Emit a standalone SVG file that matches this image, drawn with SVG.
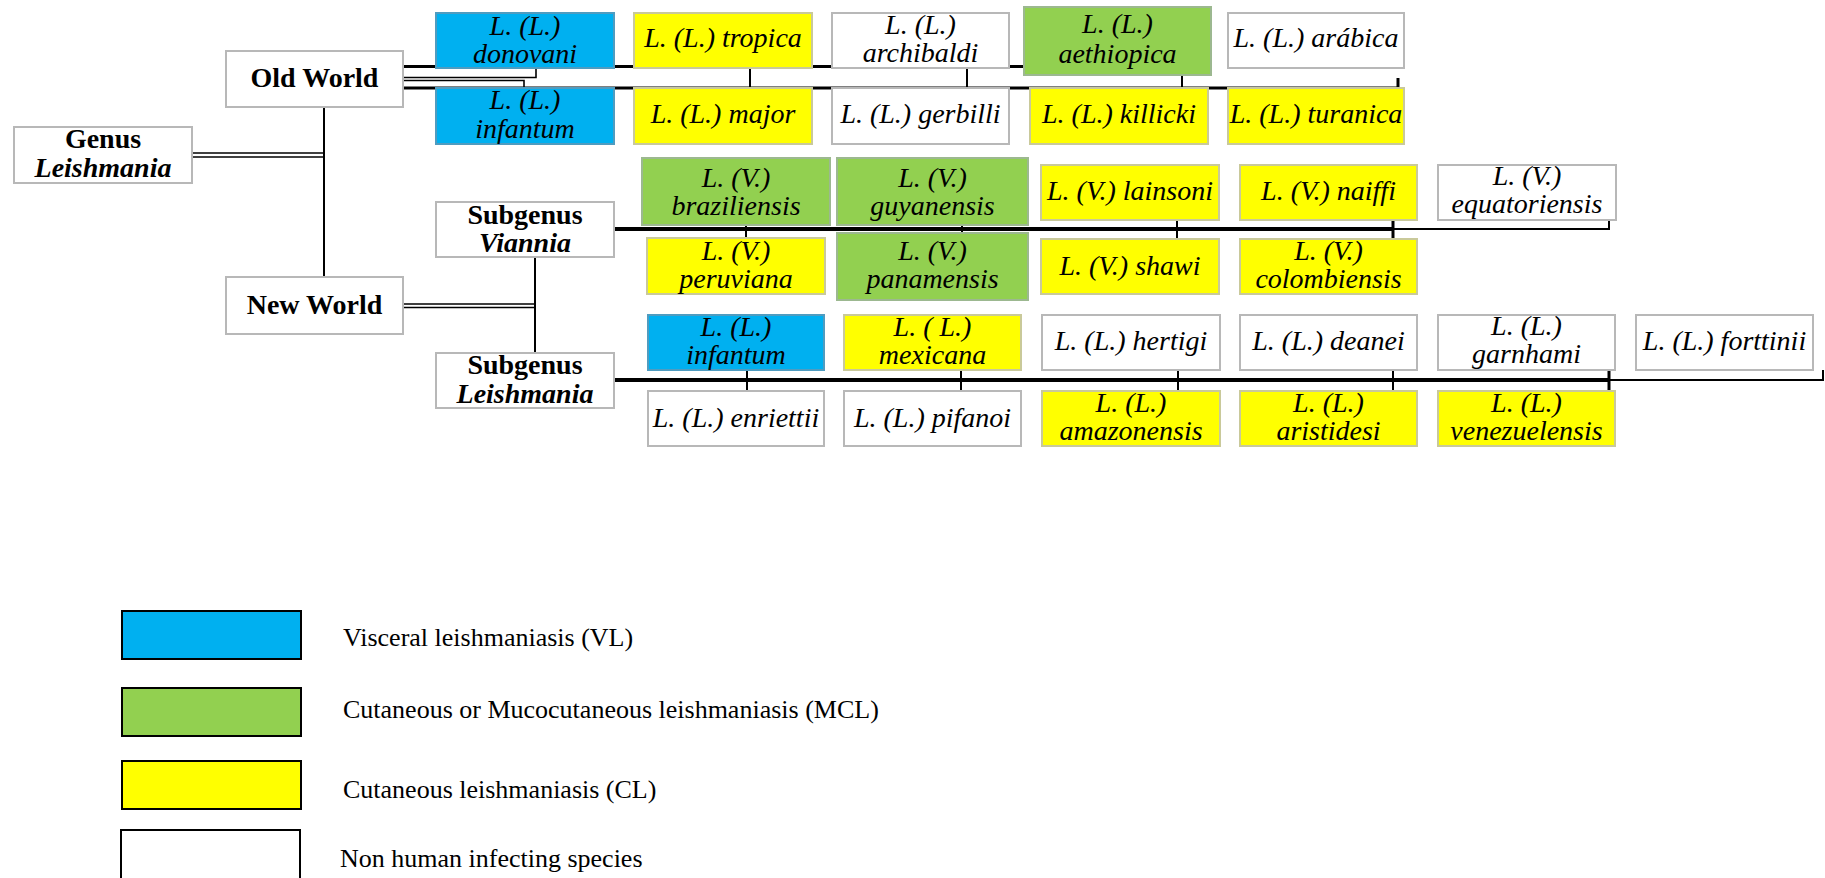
<svg xmlns="http://www.w3.org/2000/svg" width="1825" height="878" viewBox="0 0 1825 878">
<style>
.bx{stroke-width:2}
.b{fill:#00b0f0;stroke:#4f9cc0}
.g{fill:#92d050;stroke:#9cb890}
.y{fill:#ffff00;stroke:#c9c99a}
.w{fill:#ffffff;stroke:#b8b8b8}
.t{font-family:"Liberation Serif","Times New Roman",serif;font-size:28px;font-style:italic;text-anchor:middle;fill:#000}
.h{font-weight:bold;font-style:normal}
.hi{font-weight:bold;font-style:italic}
.c{stroke:#000;fill:none}
.k{stroke-width:3}
.m{stroke-width:2}
.s{stroke-width:1.6}
.f{stroke-width:4}
.lg{stroke:#000;stroke-width:2}
.lt{font-family:"Liberation Serif","Times New Roman",serif;font-size:26px;fill:#000}
</style>
<rect width="1825" height="878" fill="#ffffff"/>
<g id="connectors">
  <line class="c s" x1="192" y1="153" x2="324" y2="153"/>
  <line class="c s" x1="192" y1="157" x2="324" y2="157"/>
  <line class="c m" x1="324" y1="107" x2="324" y2="277"/>
  <line class="c k" x1="403" y1="66.5" x2="1030" y2="66.5"/>
  <path class="c s" d="M403,77.5 H536 V68"/>
  <path class="c s" d="M403,80.5 H524 V88"/>
  <path class="c k" d="M403,88 H1398 V78"/>
  <line class="c m" x1="750" y1="68" x2="750" y2="88"/>
  <line class="c m" x1="967" y1="68" x2="967" y2="88"/>
  <line class="c m" x1="1182" y1="75" x2="1182" y2="88"/>
  <line class="c s" x1="403" y1="304" x2="535" y2="304"/>
  <line class="c s" x1="403" y1="307.5" x2="535" y2="307.5"/>
  <line class="c m" x1="535" y1="257" x2="535" y2="353"/>
  <line class="c f" x1="614" y1="229" x2="1393" y2="229"/>
  <path class="c m" d="M1393,229 H1609 V220"/>
  <line class="c m" x1="746" y1="225" x2="746" y2="238"/>
  <line class="c m" x1="962" y1="225" x2="962" y2="233"/>
  <line class="c m" x1="1177" y1="220" x2="1177" y2="239"/>
  <line class="c k" x1="1393" y1="220" x2="1393" y2="239"/>
  <line class="c f" x1="614" y1="380" x2="1609" y2="380"/>
  <path class="c m" d="M1609,380 H1823 V370"/>
  <line class="c m" x1="747" y1="370" x2="747" y2="391"/>
  <line class="c m" x1="961" y1="370" x2="961" y2="391"/>
  <line class="c m" x1="1178" y1="370" x2="1178" y2="391"/>
  <line class="c m" x1="1393" y1="370" x2="1393" y2="391"/>
  <line class="c k" x1="1609" y1="370" x2="1609" y2="391"/>
</g>
<g id="genus"><rect class="bx w" x="14" y="127" width="178" height="56"/><text class="t h" x="103" y="148">Genus</text><text class="t hi" x="103" y="177">Leishmania</text></g>
<g id="old-world"><rect class="bx w" x="226" y="51" width="177" height="56"/><text class="t h" x="314.5" y="87">Old World</text></g>
<g id="new-world"><rect class="bx w" x="226" y="277" width="177" height="57"/><text class="t h" x="314.5" y="314">New World</text></g>
<g id="subgenus-viannia"><rect class="bx w" x="436" y="202" width="178" height="55"/><text class="t h" x="525" y="224">Subgenus</text><text class="t hi" x="525" y="252">Viannia</text></g>
<g id="subgenus-leishmania"><rect class="bx w" x="436" y="353" width="178" height="55"/><text class="t h" x="525" y="374">Subgenus</text><text class="t hi" x="525" y="403">Leishmania</text></g>

<g id="donovani"><rect class="bx b" x="436" y="13" width="178" height="55"/><text class="t" x="525" y="35">L. (L.)</text><text class="t" x="525" y="63">donovani</text></g>
<g id="infantum-old"><rect class="bx b" x="436" y="88" width="178" height="56"/><text class="t" x="525" y="109">L. (L.)</text><text class="t" x="525" y="138">infantum</text></g>
<g id="tropica"><rect class="bx y" x="634" y="13" width="178" height="55"/><text class="t" x="723" y="47">L. (L.) tropica</text></g>
<g id="archibaldi"><rect class="bx w" x="832" y="13" width="177" height="55"/><text class="t" x="920.5" y="34">L. (L.)</text><text class="t" x="920.5" y="62">archibaldi</text></g>
<g id="aethiopica"><rect class="bx g" x="1024" y="7" width="187" height="68"/><text class="t" x="1117.5" y="33">L. (L.)</text><text class="t" x="1117.5" y="63">aethiopica</text></g>
<g id="arabica"><rect class="bx w" x="1228" y="13" width="176" height="55"/><text class="t" x="1316" y="47">L. (L.) arábica</text></g>
<g id="major"><rect class="bx y" x="634" y="88" width="178" height="56"/><text class="t" x="723" y="123">L. (L.) major</text></g>
<g id="gerbilli"><rect class="bx w" x="832" y="88" width="177" height="56"/><text class="t" x="920.5" y="123">L. (L.) gerbilli</text></g>
<g id="killicki"><rect class="bx y" x="1030" y="88" width="178" height="56"/><text class="t" x="1119" y="123">L. (L.) killicki</text></g>
<g id="turanica"><rect class="bx y" x="1228" y="88" width="176" height="56"/><text class="t" x="1316" y="123">L. (L.) turanica</text></g>

<g id="braziliensis"><rect class="bx g" x="642" y="158" width="188" height="67"/><text class="t" x="736" y="187">L. (V.)</text><text class="t" x="736" y="215">braziliensis</text></g>
<g id="guyanensis"><rect class="bx g" x="837" y="158" width="191" height="67"/><text class="t" x="932.5" y="187">L. (V.)</text><text class="t" x="932.5" y="215">guyanensis</text></g>
<g id="lainsoni"><rect class="bx y" x="1041" y="165" width="178" height="55"/><text class="t" x="1130" y="200">L. (V.) lainsoni</text></g>
<g id="naiffi"><rect class="bx y" x="1240" y="165" width="177" height="55"/><text class="t" x="1328.5" y="200">L. (V.) naiffi</text></g>
<g id="equatoriensis"><rect class="bx w" x="1438" y="165" width="178" height="55"/><text class="t" x="1527" y="185">L. (V.)</text><text class="t" x="1527" y="213">equatoriensis</text></g>
<g id="peruviana"><rect class="bx y" x="647" y="238" width="178" height="56"/><text class="t" x="736" y="260">L. (V.)</text><text class="t" x="736" y="288">peruviana</text></g>
<g id="panamensis"><rect class="bx g" x="837" y="233" width="191" height="67"/><text class="t" x="932.5" y="260">L. (V.)</text><text class="t" x="932.5" y="288">panamensis</text></g>
<g id="shawi"><rect class="bx y" x="1041" y="239" width="178" height="55"/><text class="t" x="1130" y="275">L. (V.) shawi</text></g>
<g id="colombiensis"><rect class="bx y" x="1240" y="239" width="177" height="55"/><text class="t" x="1328.5" y="260">L. (V.)</text><text class="t" x="1328.5" y="288">colombiensis</text></g>

<g id="infantum-new"><rect class="bx b" x="648" y="315" width="176" height="55"/><text class="t" x="736" y="336">L. (L.)</text><text class="t" x="736" y="364">infantum</text></g>
<g id="mexicana"><rect class="bx y" x="844" y="315" width="177" height="55"/><text class="t" x="932.5" y="336">L. ( L.)</text><text class="t" x="932.5" y="364">mexicana</text></g>
<g id="hertigi"><rect class="bx w" x="1042" y="315" width="178" height="55"/><text class="t" x="1131" y="350">L. (L.) hertigi</text></g>
<g id="deanei"><rect class="bx w" x="1240" y="315" width="177" height="55"/><text class="t" x="1328.5" y="350">L. (L.) deanei</text></g>
<g id="garnhami"><rect class="bx w" x="1438" y="315" width="177" height="55"/><text class="t" x="1526.5" y="335">L. (L.)</text><text class="t" x="1526.5" y="363">garnhami</text></g>
<g id="forttinii"><rect class="bx w" x="1636" y="315" width="177" height="55"/><text class="t" x="1724.5" y="350">L. (L.) forttinii</text></g>
<g id="enriettii"><rect class="bx w" x="648" y="391" width="176" height="55"/><text class="t" x="736" y="427">L. (L.) enriettii</text></g>
<g id="pifanoi"><rect class="bx w" x="844" y="391" width="177" height="55"/><text class="t" x="932.5" y="427">L. (L.) pifanoi</text></g>
<g id="amazonensis"><rect class="bx y" x="1042" y="391" width="178" height="55"/><text class="t" x="1131" y="412">L. (L.)</text><text class="t" x="1131" y="440">amazonensis</text></g>
<g id="aristidesi"><rect class="bx y" x="1240" y="391" width="177" height="55"/><text class="t" x="1328.5" y="412">L. (L.)</text><text class="t" x="1328.5" y="440">aristidesi</text></g>
<g id="venezuelensis"><rect class="bx y" x="1438" y="391" width="177" height="55"/><text class="t" x="1526.5" y="412">L. (L.)</text><text class="t" x="1526.5" y="440">venezuelensis</text></g>

<g id="legend">
  <rect class="lg" x="122" y="611" width="179" height="48" fill="#00b0f0"/>
  <text class="lt" x="343" y="646">Visceral leishmaniasis (VL)</text>
  <rect class="lg" x="122" y="688" width="179" height="48" fill="#92d050"/>
  <text class="lt" x="343" y="718">Cutaneous or Mucocutaneous leishmaniasis (MCL)</text>
  <rect class="lg" x="122" y="761" width="179" height="48" fill="#ffff00"/>
  <text class="lt" x="343" y="798">Cutaneous leishmaniasis (CL)</text>
  <rect class="lg" x="121" y="830" width="179" height="50" fill="#ffffff"/>
  <text class="lt" x="340" y="867">Non human infecting species</text>
</g>
</svg>
